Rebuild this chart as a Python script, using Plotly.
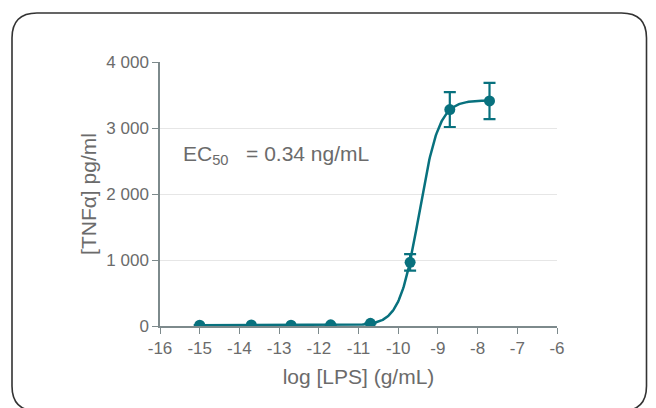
import numpy as np
import plotly.graph_objects as go

# Data
log_lps = [-15.0, -13.7, -12.7, -11.7, -10.7, -9.7, -8.7, -7.7]
tnf = [12, 15, 12, 18, 40, 965, 3280, 3410]
tnf_err = [0, 0, 0, 0, 0, 125, 265, 275]

# 4PL fit parameters (EC50 = 0.34 ng/mL)
fit_bottom = 12
fit_top = 3420
fit_logec50 = -9.47
fit_hill = 1.75

x_ticks = [-16, -15, -14, -13, -12, -11, -10, -9, -8, -7, -6]
x_ticklabels = ["-16", "-15", "-14", "-13", "-12", "-11", "-10", "-9", "-8", "-7", "-6"]
y_ticks = [0, 1000, 2000, 3000, 4000]
y_ticklabels = ["0", "1 000", "2 000", "3 000", "4 000"]

TEAL = "#08717e"
GRAY = "#6b6b6b"
AXIS = "#7d8a8c"
FONT = "Liberation Sans, Arial"

xc = np.linspace(min(log_lps), max(log_lps), 400)
yc = fit_bottom + (fit_top - fit_bottom) / (1 + 10 ** ((fit_logec50 - xc) * fit_hill))

fig = go.Figure()
fig.add_trace(go.Scatter(x=xc, y=yc, mode="lines",
                         line=dict(color=TEAL, width=2.5), hoverinfo="skip",
                         showlegend=False))
fig.add_trace(go.Scatter(x=log_lps, y=tnf, mode="markers",
                         marker=dict(color=TEAL, size=11),
                         error_y=dict(type="data", array=tnf_err, visible=True,
                                      color=TEAL, thickness=2.2, width=6),
                         showlegend=False))

# target plot area geometry in screen pixels (page has an 8px body margin)
OFF = 8
L, R, T, B = 160, 557, 62, 326
W, H = 656, 408

def px(x):
    return (x - L) / (R - L)

def py(y):
    return (B - y) / (B - T)

# rounded border
x0, x1, y0, y1, r = 12, 646.5, 13, 411, 25
pts = [
    ("M", x0, y0 + r),
    ("Q", x0, y0, x0 + r, y0),
    ("L", x1 - r, y0),
    ("Q", x1, y0, x1, y0 + r),
    ("L", x1, y1 - r),
    ("Q", x1, y1, x1 - r, y1),
    ("L", x0 + r, y1),
    ("Q", x0, y1, x0, y1 - r),
]
path = ""
for p in pts:
    cmd = p[0]
    coords = p[1:]
    s = " ".join(f"{px(coords[i]):.5f},{py(coords[i+1]):.5f}" for i in range(0, len(coords), 2))
    path += f"{cmd} {s} "
path += "Z"
fig.add_shape(type="path", path=path, xref="paper", yref="paper",
              line=dict(color="#333333", width=1.6), layer="above")

fig.add_annotation(x=px(181), y=py(155), xref="paper", yref="paper",
                   text="EC<sub>50</sub>   = 0.34 ng/mL", showarrow=False,
                   xanchor="left", yanchor="middle",
                   font=dict(family=FONT, size=21, color=GRAY))

fig.update_xaxes(range=[-16, -6], tickvals=x_ticks, ticktext=x_ticklabels,
                 ticks="outside", ticklen=6,
                 tickcolor=AXIS, tickwidth=1.3, showline=True, linecolor=AXIS, linewidth=1.5,
                 showgrid=False, zeroline=False,
                 tickfont=dict(family=FONT, size=17, color=GRAY),
                 title=dict(text="log [LPS] (g/mL)", standoff=12,
                            font=dict(family=FONT, size=21, color=GRAY)))
fig.update_yaxes(range=[0, 4000], tickvals=y_ticks, ticktext=y_ticklabels,
                 ticks="outside", ticklen=6, tickcolor=AXIS, tickwidth=1.3,
                 showline=True, linecolor=AXIS, linewidth=1.5,
                 showgrid=True, gridcolor="#e6e6e6", gridwidth=1.3, zeroline=False,
                 tickfont=dict(family=FONT, size=17, color=GRAY),
                 title=dict(text="[TNFα] pg/ml", standoff=4,
                            font=dict(family=FONT, size=21, color=GRAY)))

fig.update_layout(width=W, height=H,
                  margin=dict(l=L - OFF, r=W - (R - OFF), t=T - OFF, b=H - (B - OFF)),
                  plot_bgcolor="white", paper_bgcolor="white")

fig.write_html("out.html")
